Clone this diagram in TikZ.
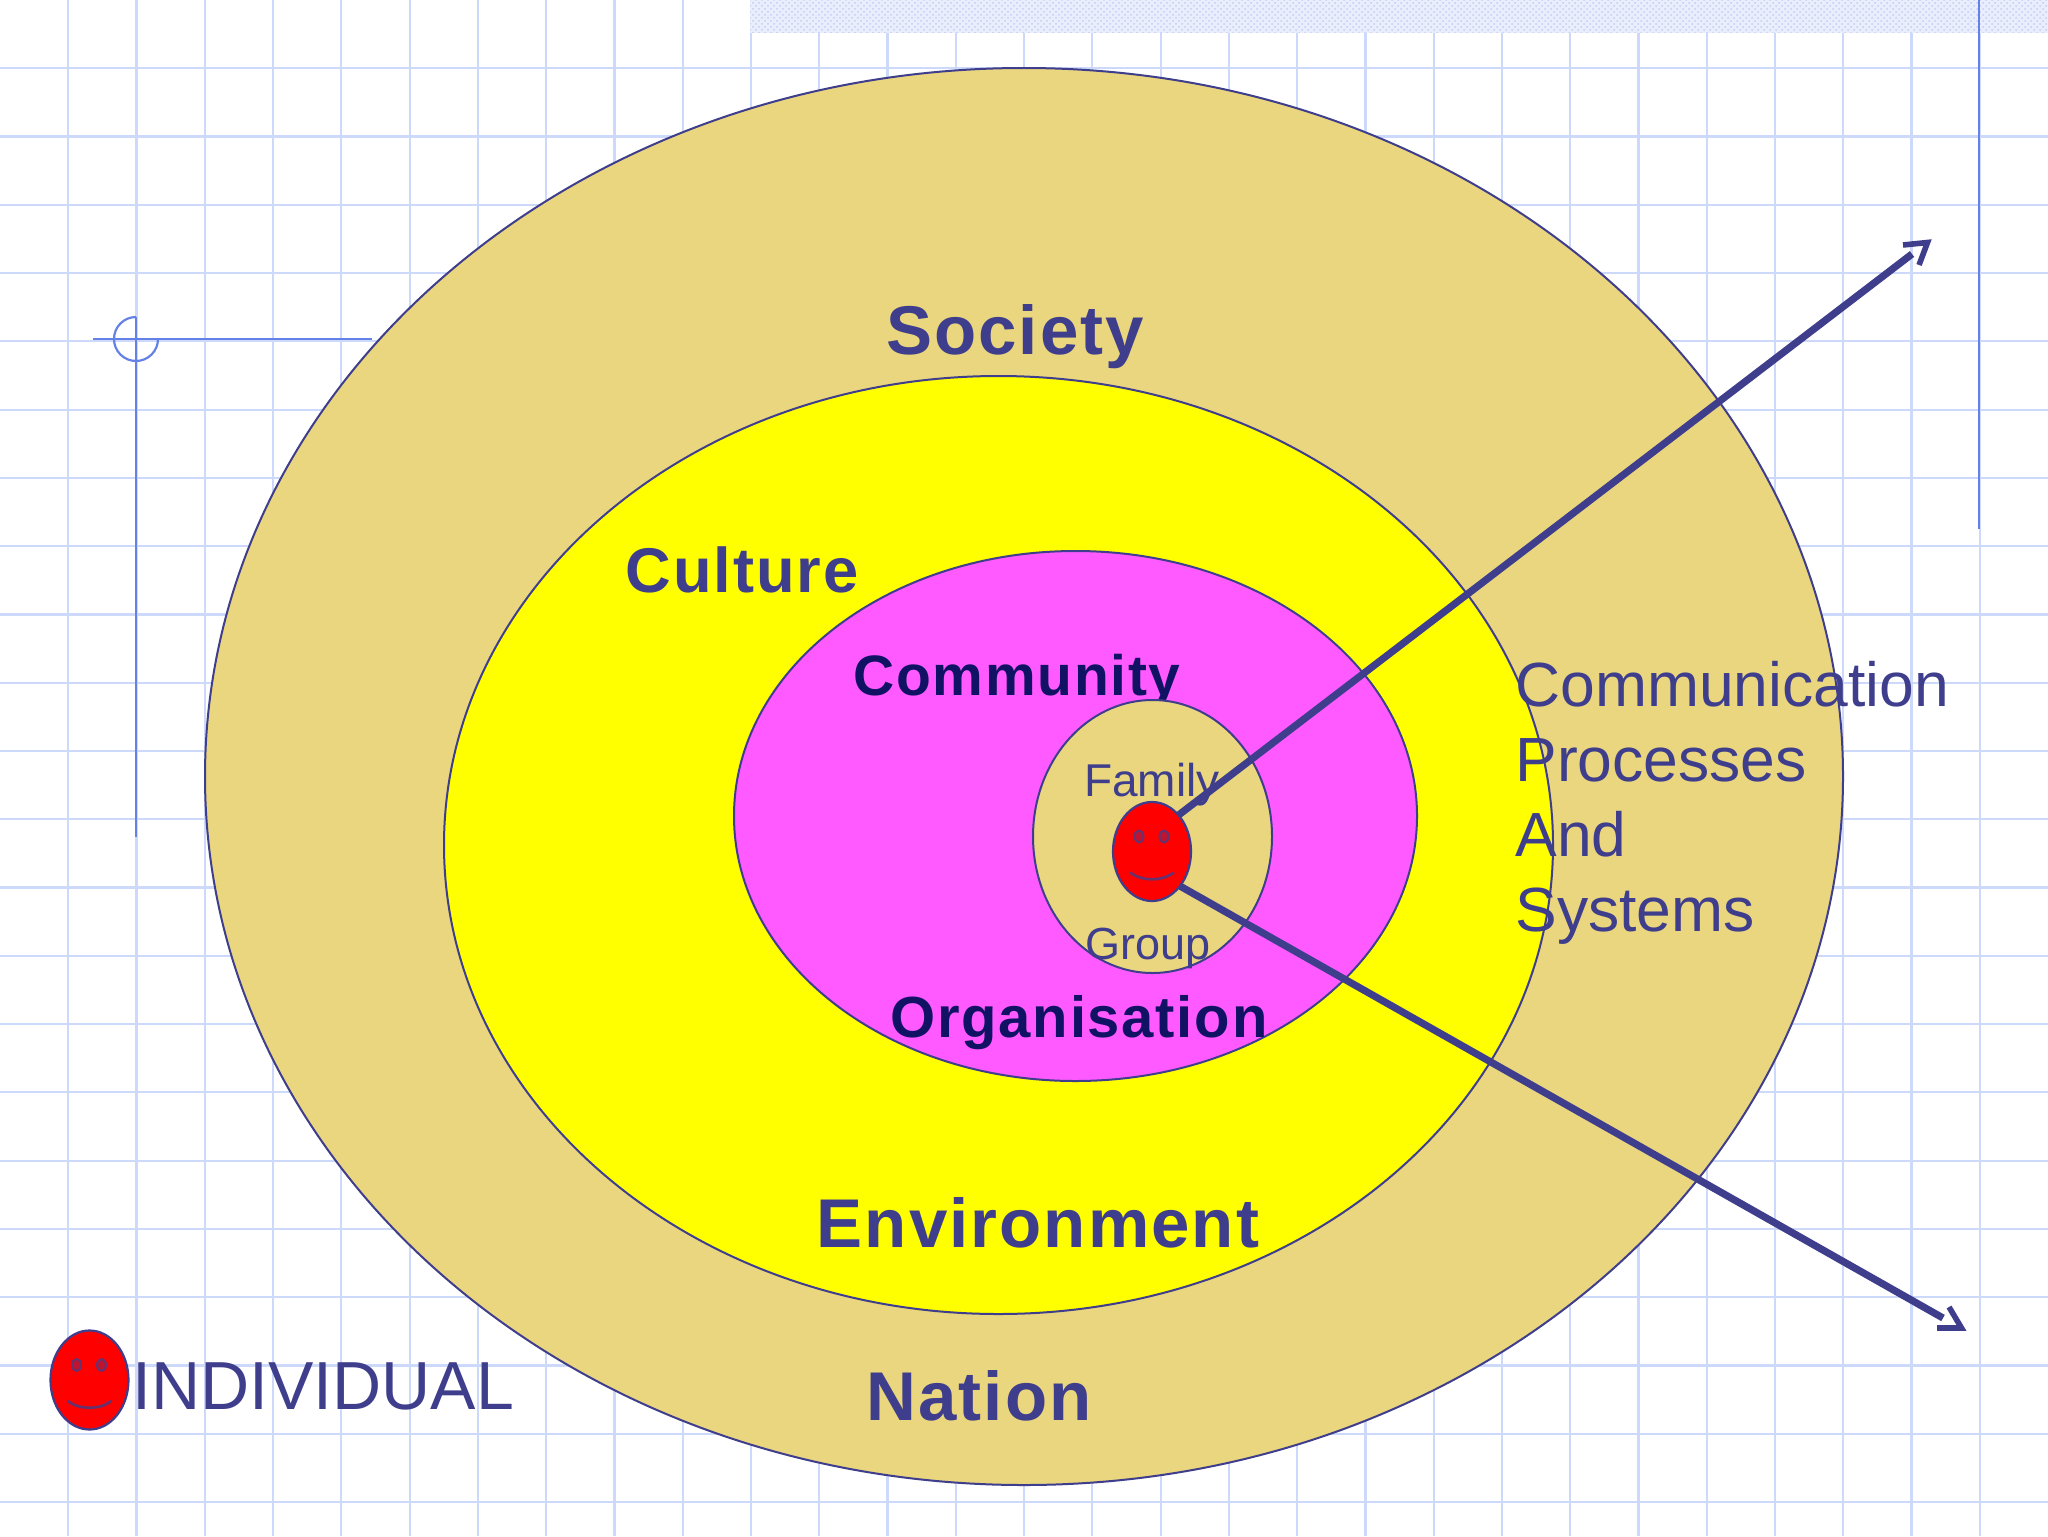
\documentclass[tikz,border=0pt]{standalone}
\usepackage{fontspec}
\setmainfont{Liberation Sans}
\usetikzlibrary{shapes.geometric,patterns}
\definecolor{gridc}{RGB}{205,217,250}
\definecolor{bluel}{RGB}{100,130,230}
\definecolor{navy}{RGB}{62,62,140}
\definecolor{deepn}{RGB}{18,18,100}
\definecolor{tan}{RGB}{234,214,127}
\definecolor{yel}{RGB}{255,255,0}
\definecolor{mag}{RGB}{255,90,255}
\definecolor{eyec}{RGB}{190,20,50}
\definecolor{strip}{RGB}{195,205,245}
\definecolor{stripb}{RGB}{234,238,252}
\newcommand{\bfsize}[2]{\fontsize{#1}{#2}\bfseries\addfontfeature{LetterSpace=3}}
\tikzset{
  ring/.style={ellipse,draw=navy,line width=1pt,inner sep=0pt,outer sep=0pt},
  gridl/.style={draw=gridc,line width=1.1pt},
  mark line/.style={draw=bluel,line width=1.1pt},
  outarrow/.style={draw=navy,line width=3.6pt},
  barb/.style={draw=navy,line width=2.8pt,miter limit=10},
  boldlab/.style={text=navy,inner sep=0pt},
  deeplab/.style={text=deepn,inner sep=0pt},
  plainlab/.style={text=navy,inner sep=0pt},
  smiley/.pic={
    \node[ellipse,draw=navy,line width=1.1pt,fill=red,minimum width=39pt,minimum height=49.5pt,inner sep=0pt,outer sep=0pt] (-face) at (0,0) {};
    \node[ellipse,draw=navy!80!red,line width=1pt,fill=eyec,minimum width=4.5pt,minimum height=6pt,inner sep=0pt] (-eyea) at (-13,-15) {};
    \node[ellipse,draw=navy!80!red,line width=1pt,fill=eyec,minimum width=4.5pt,minimum height=6pt,inner sep=0pt] (-eyeb) at (12,-15) {};
    \draw[navy!80!red,line width=1.3pt] (-22,21) .. controls (-10,30) and (10,30) .. (22,21);
  }
}
\begin{document}
\begin{tikzpicture}[x=0.5pt,y=-0.5pt]
\useasboundingbox (0,0) rectangle (2048,1536);
\fill[white] (0,0) rectangle (2048,1536);
% grid
\foreach \k in {1,...,22} \draw[gridl] (0,68.27*\k) -- (2048,68.27*\k);
\foreach \k in {1,...,29} \draw[gridl] (68.27*\k,0) -- (68.27*\k,1536);
% top strip
\fill[stripb] (750,0) rectangle (2048,33);
\fill[pattern=crosshatch dots,pattern color=strip] (750,0) rectangle (2048,33);
% construction marks
\coordinate (hs) at (93,339); \coordinate (he) at (372,339);
\coordinate (vs) at (136,317); \coordinate (ve) at (136,837);
\coordinate (rs) at (1979,0); \coordinate (re) at (1979,529);
\draw[mark line] (hs) -- (he);
\draw[mark line] (vs) -- (ve);
\draw[mark line] (rs) -- (re);
\draw[mark line] (136,317) arc[start angle=90,end angle=360,radius=11pt];
% rings
\node[ring,fill=tan,minimum width=819pt,minimum height=708.5pt] (society) at (1024,776.5) {};
\node[ring,fill=yel,minimum width=554.5pt,minimum height=469pt] (culture) at (998.5,845) {};
\node[ring,fill=mag,minimum width=341.5pt,minimum height=265pt] (community) at (1075.5,816) {};
\node[deeplab,font=\bfsize{28.5}{34}] (lcommunity) at (1017,681) {Community};
\node[ring,fill=tan,minimum width=119.5pt,minimum height=136.5pt] (family) at (1152.5,836.5) {};
% labels
\node[boldlab,font=\bfsize{34.5}{41}] (lsociety) at (1015,337) {Society};
\node[boldlab,font=\bfsize{31.6}{38}] (lculture) at (742,570) {Culture};
\node[deeplab,font=\bfsize{29}{35}] (lorg) at (1079,1023) {Organisation};
\node[boldlab,font=\bfsize{34.5}{41}] (lenv) at (1038,1223) {Environment};
\node[boldlab,font=\bfsize{34.5}{41}] (lnation) at (979,1396) {Nation};
\node[plainlab,font=\fontsize{23}{27}\selectfont] (lfamily) at (1152,785) {Family};
\node[plainlab,font=\fontsize{22.5}{27}\selectfont] (lgroup) at (1148,948) {Group};
\node[plainlab,font=\fontsize{31.2}{37.5}\selectfont,align=left,anchor=west] (lcomm) at (1515,803) {Communication\\Processes\\And\\Systems};
\node[plainlab,font=\fontsize{34}{40}\selectfont,anchor=west] (lind) at (132,1386) {INDIVIDUAL};
% individuals
\pic (me) at (1152,851.5) {smiley};
\pic (leg) at (89.5,1380) {smiley};
% arrows: shaft with a gap before an open chevron head
\coordinate (enda) at (1912,254);
\coordinate (tipa) at (1927.5,242.5);
\coordinate (wa1) at (1903,245);
\coordinate (wa2) at (1919,265);
\coordinate (endb) at (1943,1318);
\coordinate (tipb) at (1961.5,1328);
\coordinate (wb1) at (1937,1328);
\coordinate (wb2) at (1949,1307);
\draw[outarrow] (me-face.54) -- (enda);
\draw[barb] (wa1) -- (tipa) -- (wa2);
\draw[outarrow] (me-face.-51) -- (endb);
\draw[barb] (wb1) -- (tipb) -- (wb2);
\end{tikzpicture}
\end{document}
